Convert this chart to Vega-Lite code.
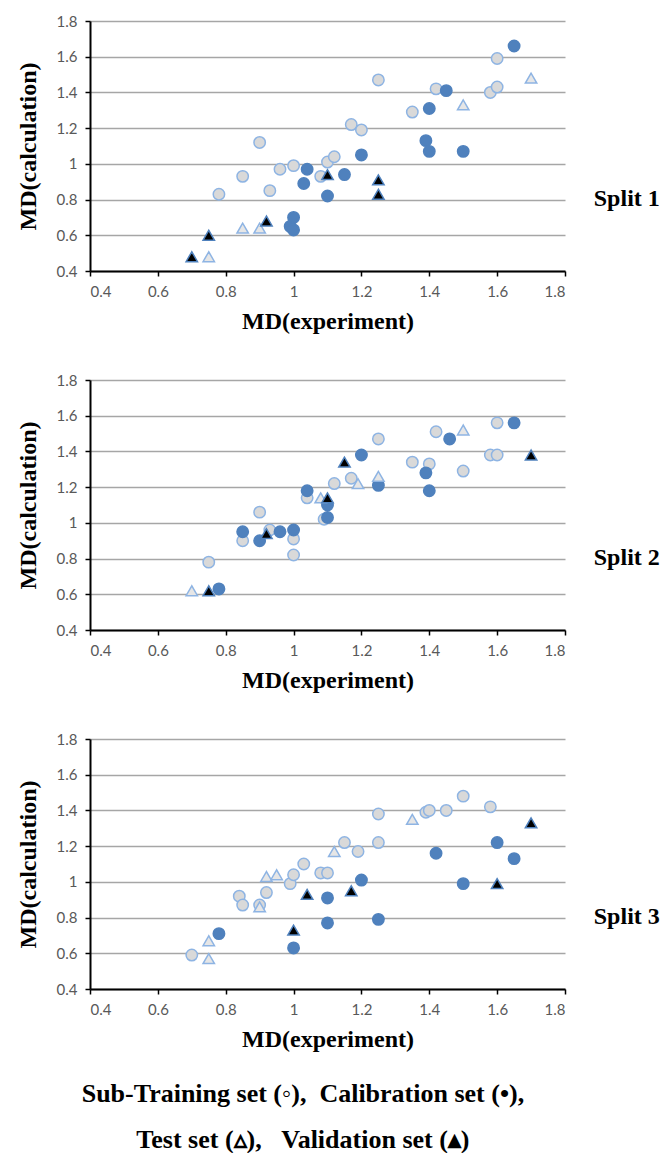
{
  "$schema": "https://vega.github.io/schema/vega-lite/v6.json",
  "background": "white",
  "padding": {"left": 16, "top": 14, "right": 0, "bottom": 0},
  "spacing": 40,
  "config": {
    "view": {"stroke": null},
    "axis": {
      "domainColor": "black", "domainWidth": 2,
      "tickColor": "black", "tickWidth": 1.5, "tickSize": 5,
      "labelFont": "Lato", "labelFontSize": 15, "labelColor": "#595959", "labelPadding": 8,
      "titleFont": "Liberation Serif", "titleFontWeight": "bold", "titleFontSize": 24, "titleColor": "black",
      "gridColor": "#a6a6a6", "gridWidth": 1.5
    },
    "axisX": {"titlePadding": 10, "grid": false},
    "axisY": {"titlePadding": 16, "grid": true}
  },
  "datasets": {
    "pts": [
      {"s":1,"set":"Sub-Training","x":0.78,"y":0.83},{"s":1,"set":"Sub-Training","x":0.85,"y":0.93},{"s":1,"set":"Sub-Training","x":0.90,"y":1.12},{"s":1,"set":"Sub-Training","x":0.93,"y":0.85},{"s":1,"set":"Sub-Training","x":0.96,"y":0.97},{"s":1,"set":"Sub-Training","x":1.00,"y":0.99},{"s":1,"set":"Sub-Training","x":1.08,"y":0.93},{"s":1,"set":"Sub-Training","x":1.10,"y":1.01},{"s":1,"set":"Sub-Training","x":1.12,"y":1.04},{"s":1,"set":"Sub-Training","x":1.17,"y":1.22},{"s":1,"set":"Sub-Training","x":1.20,"y":1.19},{"s":1,"set":"Sub-Training","x":1.25,"y":1.47},{"s":1,"set":"Sub-Training","x":1.35,"y":1.29},{"s":1,"set":"Sub-Training","x":1.42,"y":1.42},{"s":1,"set":"Sub-Training","x":1.58,"y":1.40},{"s":1,"set":"Sub-Training","x":1.60,"y":1.43},{"s":1,"set":"Sub-Training","x":1.60,"y":1.59},
      {"s":1,"set":"Calibration","x":0.99,"y":0.65},{"s":1,"set":"Calibration","x":1.00,"y":0.70},{"s":1,"set":"Calibration","x":1.00,"y":0.63},{"s":1,"set":"Calibration","x":1.03,"y":0.89},{"s":1,"set":"Calibration","x":1.04,"y":0.97},{"s":1,"set":"Calibration","x":1.10,"y":0.82},{"s":1,"set":"Calibration","x":1.15,"y":0.94},{"s":1,"set":"Calibration","x":1.20,"y":1.05},{"s":1,"set":"Calibration","x":1.39,"y":1.13},{"s":1,"set":"Calibration","x":1.40,"y":1.07},{"s":1,"set":"Calibration","x":1.40,"y":1.31},{"s":1,"set":"Calibration","x":1.45,"y":1.41},{"s":1,"set":"Calibration","x":1.50,"y":1.07},{"s":1,"set":"Calibration","x":1.65,"y":1.66},
      {"s":1,"set":"Test","x":0.75,"y":0.48},{"s":1,"set":"Test","x":0.85,"y":0.64},{"s":1,"set":"Test","x":0.90,"y":0.64},{"s":1,"set":"Test","x":1.50,"y":1.33},{"s":1,"set":"Test","x":1.70,"y":1.48},
      {"s":1,"set":"Validation","x":0.70,"y":0.48},{"s":1,"set":"Validation","x":0.75,"y":0.60},{"s":1,"set":"Validation","x":0.92,"y":0.68},{"s":1,"set":"Validation","x":1.10,"y":0.94},{"s":1,"set":"Validation","x":1.25,"y":0.91},{"s":1,"set":"Validation","x":1.25,"y":0.83},

      {"s":2,"set":"Sub-Training","x":0.75,"y":0.78},{"s":2,"set":"Sub-Training","x":0.85,"y":0.90},{"s":2,"set":"Sub-Training","x":0.90,"y":1.06},{"s":2,"set":"Sub-Training","x":0.93,"y":0.96},{"s":2,"set":"Sub-Training","x":1.00,"y":0.91},{"s":2,"set":"Sub-Training","x":1.00,"y":0.82},{"s":2,"set":"Sub-Training","x":1.04,"y":1.14},{"s":2,"set":"Sub-Training","x":1.09,"y":1.02},{"s":2,"set":"Sub-Training","x":1.12,"y":1.22},{"s":2,"set":"Sub-Training","x":1.17,"y":1.25},{"s":2,"set":"Sub-Training","x":1.25,"y":1.47},{"s":2,"set":"Sub-Training","x":1.35,"y":1.34},{"s":2,"set":"Sub-Training","x":1.40,"y":1.33},{"s":2,"set":"Sub-Training","x":1.42,"y":1.51},{"s":2,"set":"Sub-Training","x":1.50,"y":1.29},{"s":2,"set":"Sub-Training","x":1.58,"y":1.38},{"s":2,"set":"Sub-Training","x":1.60,"y":1.38},{"s":2,"set":"Sub-Training","x":1.60,"y":1.56},
      {"s":2,"set":"Calibration","x":0.78,"y":0.63},{"s":2,"set":"Calibration","x":0.85,"y":0.95},{"s":2,"set":"Calibration","x":0.90,"y":0.90},{"s":2,"set":"Calibration","x":0.96,"y":0.95},{"s":2,"set":"Calibration","x":1.00,"y":0.96},{"s":2,"set":"Calibration","x":1.04,"y":1.18},{"s":2,"set":"Calibration","x":1.10,"y":1.03},{"s":2,"set":"Calibration","x":1.10,"y":1.10},{"s":2,"set":"Calibration","x":1.20,"y":1.38},{"s":2,"set":"Calibration","x":1.25,"y":1.21},{"s":2,"set":"Calibration","x":1.39,"y":1.28},{"s":2,"set":"Calibration","x":1.40,"y":1.18},{"s":2,"set":"Calibration","x":1.46,"y":1.47},{"s":2,"set":"Calibration","x":1.65,"y":1.56},
      {"s":2,"set":"Test","x":0.70,"y":0.62},{"s":2,"set":"Test","x":1.08,"y":1.14},{"s":2,"set":"Test","x":1.19,"y":1.22},{"s":2,"set":"Test","x":1.25,"y":1.26},{"s":2,"set":"Test","x":1.50,"y":1.52},
      {"s":2,"set":"Validation","x":0.75,"y":0.62},{"s":2,"set":"Validation","x":0.92,"y":0.94},{"s":2,"set":"Validation","x":1.10,"y":1.14},{"s":2,"set":"Validation","x":1.15,"y":1.34},{"s":2,"set":"Validation","x":1.70,"y":1.38},

      {"s":3,"set":"Sub-Training","x":0.70,"y":0.59},{"s":3,"set":"Sub-Training","x":0.84,"y":0.92},{"s":3,"set":"Sub-Training","x":0.85,"y":0.87},{"s":3,"set":"Sub-Training","x":0.90,"y":0.87},{"s":3,"set":"Sub-Training","x":0.92,"y":0.94},{"s":3,"set":"Sub-Training","x":0.99,"y":0.99},{"s":3,"set":"Sub-Training","x":1.00,"y":1.04},{"s":3,"set":"Sub-Training","x":1.03,"y":1.10},{"s":3,"set":"Sub-Training","x":1.08,"y":1.05},{"s":3,"set":"Sub-Training","x":1.10,"y":1.05},{"s":3,"set":"Sub-Training","x":1.15,"y":1.22},{"s":3,"set":"Sub-Training","x":1.19,"y":1.17},{"s":3,"set":"Sub-Training","x":1.25,"y":1.22},{"s":3,"set":"Sub-Training","x":1.25,"y":1.38},{"s":3,"set":"Sub-Training","x":1.39,"y":1.39},{"s":3,"set":"Sub-Training","x":1.40,"y":1.40},{"s":3,"set":"Sub-Training","x":1.45,"y":1.40},{"s":3,"set":"Sub-Training","x":1.50,"y":1.48},{"s":3,"set":"Sub-Training","x":1.58,"y":1.42},
      {"s":3,"set":"Calibration","x":0.78,"y":0.71},{"s":3,"set":"Calibration","x":1.00,"y":0.63},{"s":3,"set":"Calibration","x":1.10,"y":0.91},{"s":3,"set":"Calibration","x":1.10,"y":0.77},{"s":3,"set":"Calibration","x":1.20,"y":1.01},{"s":3,"set":"Calibration","x":1.25,"y":0.79},{"s":3,"set":"Calibration","x":1.42,"y":1.16},{"s":3,"set":"Calibration","x":1.50,"y":0.99},{"s":3,"set":"Calibration","x":1.60,"y":1.22},{"s":3,"set":"Calibration","x":1.65,"y":1.13},
      {"s":3,"set":"Test","x":0.75,"y":0.57},{"s":3,"set":"Test","x":0.75,"y":0.67},{"s":3,"set":"Test","x":0.90,"y":0.86},{"s":3,"set":"Test","x":0.92,"y":1.03},{"s":3,"set":"Test","x":0.95,"y":1.04},{"s":3,"set":"Test","x":1.12,"y":1.17},{"s":3,"set":"Test","x":1.35,"y":1.35},
      {"s":3,"set":"Validation","x":1.00,"y":0.73},{"s":3,"set":"Validation","x":1.04,"y":0.93},{"s":3,"set":"Validation","x":1.17,"y":0.95},{"s":3,"set":"Validation","x":1.60,"y":0.99},{"s":3,"set":"Validation","x":1.70,"y":1.33}
    ]
  },
  "title": {
    "text": ["Sub-Training set (◦),\u00a0 Calibration set (•),", "Test set (▵),\u00a0\u00a0\u00a0Validation set (▴)"],
    "orient": "bottom", "anchor": "middle", "frame": "bounds",
    "font": "Liberation Serif", "fontWeight": "bold", "fontSize": 26, "color": "black",
    "lineHeight": 46, "offset": 30, "dx": -35
  },
  "vconcat": [
    {
      "width": 475, "height": 250,
      "title": {"text": "Split 1", "orient": "right", "angle": 0, "align": "left", "baseline": "middle", "anchor": "middle", "frame": "group", "dy": 53, "offset": -38, "font": "Liberation Serif", "fontWeight": "bold", "fontSize": 24, "color": "black"},
      "data": {"name": "pts"},
      "transform": [{"filter": "datum.s == 1"}],
      "mark": {"type": "point", "filled": true, "opacity": 1, "strokeWidth": 1.5},
      "encoding": {
        "x": {"field": "x", "type": "quantitative", "scale": {"domain": [0.4, 1.8], "nice": false, "zero": false}, "axis": {"title": "MD(experiment)", "values": [0.4,0.6,0.8,1.0,1.2,1.4,1.6,1.8], "format": "~g"}},
        "y": {"field": "y", "type": "quantitative", "scale": {"domain": [0.4, 1.8], "nice": false, "zero": false}, "axis": {"title": "MD(calculation)", "values": [0.4,0.6,0.8,1.0,1.2,1.4,1.6,1.8], "format": "~g"}},
        "shape": {"field": "set", "type": "nominal", "scale": {"domain": ["Sub-Training","Calibration","Test","Validation"], "range": ["circle","circle","triangle-up","triangle-up"]}, "legend": null},
        "fill": {"field": "set", "type": "nominal", "scale": {"domain": ["Sub-Training","Calibration","Test","Validation"], "range": ["#d9d9d9","#4f81bd","#e6e6e6","#000000"]}, "legend": null},
        "stroke": {"field": "set", "type": "nominal", "scale": {"domain": ["Sub-Training","Calibration","Test","Validation"], "range": ["#8eb4e3","#4f81bd","#8eb4e3","#4f81bd"]}, "legend": null},
        "size": {"field": "set", "type": "nominal", "scale": {"domain": ["Sub-Training","Calibration","Test","Validation"], "range": [130,130,110,110]}, "legend": null}
      }
    },
    {
      "width": 475, "height": 250,
      "title": {"text": "Split 2", "orient": "right", "angle": 0, "align": "left", "baseline": "middle", "anchor": "middle", "frame": "group", "dy": 53, "offset": -38, "font": "Liberation Serif", "fontWeight": "bold", "fontSize": 24, "color": "black"},
      "data": {"name": "pts"},
      "transform": [{"filter": "datum.s == 2"}],
      "mark": {"type": "point", "filled": true, "opacity": 1, "strokeWidth": 1.5},
      "encoding": {
        "x": {"field": "x", "type": "quantitative", "scale": {"domain": [0.4, 1.8], "nice": false, "zero": false}, "axis": {"title": "MD(experiment)", "values": [0.4,0.6,0.8,1.0,1.2,1.4,1.6,1.8], "format": "~g"}},
        "y": {"field": "y", "type": "quantitative", "scale": {"domain": [0.4, 1.8], "nice": false, "zero": false}, "axis": {"title": "MD(calculation)", "values": [0.4,0.6,0.8,1.0,1.2,1.4,1.6,1.8], "format": "~g"}},
        "shape": {"field": "set", "type": "nominal", "scale": {"domain": ["Sub-Training","Calibration","Test","Validation"], "range": ["circle","circle","triangle-up","triangle-up"]}, "legend": null},
        "fill": {"field": "set", "type": "nominal", "scale": {"domain": ["Sub-Training","Calibration","Test","Validation"], "range": ["#d9d9d9","#4f81bd","#e6e6e6","#000000"]}, "legend": null},
        "stroke": {"field": "set", "type": "nominal", "scale": {"domain": ["Sub-Training","Calibration","Test","Validation"], "range": ["#8eb4e3","#4f81bd","#8eb4e3","#4f81bd"]}, "legend": null},
        "size": {"field": "set", "type": "nominal", "scale": {"domain": ["Sub-Training","Calibration","Test","Validation"], "range": [130,130,110,110]}, "legend": null}
      }
    },
    {
      "width": 475, "height": 250,
      "title": {"text": "Split 3", "orient": "right", "angle": 0, "align": "left", "baseline": "middle", "anchor": "middle", "frame": "group", "dy": 53, "offset": -38, "font": "Liberation Serif", "fontWeight": "bold", "fontSize": 24, "color": "black"},
      "data": {"name": "pts"},
      "transform": [{"filter": "datum.s == 3"}],
      "mark": {"type": "point", "filled": true, "opacity": 1, "strokeWidth": 1.5},
      "encoding": {
        "x": {"field": "x", "type": "quantitative", "scale": {"domain": [0.4, 1.8], "nice": false, "zero": false}, "axis": {"title": "MD(experiment)", "values": [0.4,0.6,0.8,1.0,1.2,1.4,1.6,1.8], "format": "~g"}},
        "y": {"field": "y", "type": "quantitative", "scale": {"domain": [0.4, 1.8], "nice": false, "zero": false}, "axis": {"title": "MD(calculation)", "values": [0.4,0.6,0.8,1.0,1.2,1.4,1.6,1.8], "format": "~g"}},
        "shape": {"field": "set", "type": "nominal", "scale": {"domain": ["Sub-Training","Calibration","Test","Validation"], "range": ["circle","circle","triangle-up","triangle-up"]}, "legend": null},
        "fill": {"field": "set", "type": "nominal", "scale": {"domain": ["Sub-Training","Calibration","Test","Validation"], "range": ["#d9d9d9","#4f81bd","#e6e6e6","#000000"]}, "legend": null},
        "stroke": {"field": "set", "type": "nominal", "scale": {"domain": ["Sub-Training","Calibration","Test","Validation"], "range": ["#8eb4e3","#4f81bd","#8eb4e3","#4f81bd"]}, "legend": null},
        "size": {"field": "set", "type": "nominal", "scale": {"domain": ["Sub-Training","Calibration","Test","Validation"], "range": [130,130,110,110]}, "legend": null}
      }
    }
  ]
}
